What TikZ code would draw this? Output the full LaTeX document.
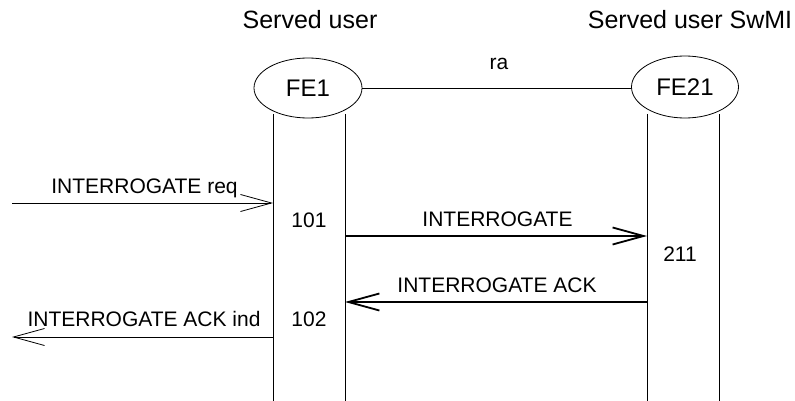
\documentclass[tikz,border=0pt]{standalone}
\usepackage{fontspec}
\setmainfont{Liberation Sans}
\usetikzlibrary{shapes.geometric,arrows.meta}
\tikzset{
  fe/.style={draw, ellipse, line width=0.8pt, inner sep=0pt,
             font=\fontsize{24}{28}\selectfont},
  life/.style={line width=0.8pt},
  lbl/.style={inner sep=0pt, anchor=base, font=\fontsize{21}{25}\selectfont},
  head/.style={inner sep=0pt, anchor=base, font=\fontsize{25}{30}\selectfont},
  thinmsg/.style={line width=0.8pt, -{Straight Barb[length=31pt,width=17pt]}},
  thickmsg/.style={line width=1.8pt, -{Straight Barb[length=31pt,width=17pt]}},
}
\begin{document}
\begin{tikzpicture}[x=1pt,y=-1pt]
  \useasboundingbox (0,0) rectangle (795,401);

  % column headings
  \node[head] (h1) at (310,29) {Served user};
  \node[head] (h2) at (690,29) {Served user SwMI};

  % functional entities and their relation
  \node[fe, minimum width=108pt, minimum height=60pt] (fe1) at (308,88) {FE1};
  \node[fe, minimum width=107pt, minimum height=62pt] (fe21) at (685,87) {FE21};
  \draw[life] (fe1.east) -- (fe21.west |- fe1.east);
  \node[lbl] (ra) at (499,70) {ra};

  % lifelines
  \coordinate (a1) at (273,114); \coordinate (a2) at (273,401);
  \coordinate (b1) at (345,114); \coordinate (b2) at (345,401);
  \coordinate (c1) at (647,114); \coordinate (c2) at (647,401);
  \coordinate (d1) at (719,114); \coordinate (d2) at (719,401);
  \draw[life] (a1) -- (a2);
  \draw[life] (b1) -- (b2);
  \draw[life] (c1) -- (c2);
  \draw[life] (d1) -- (d2);

  % message end points
  \coordinate (reqs) at (12,203);  \coordinate (reqe) at (273,203);
  \coordinate (ints) at (345,236); \coordinate (inte) at (647,236);
  \coordinate (acks) at (647,302); \coordinate (acke) at (345,302);
  \coordinate (inds) at (273,337); \coordinate (inde) at (12,337);

  % messages
  \draw[thinmsg]  (reqs) -- (reqe);
  \draw[thickmsg] (ints) -- (inte);
  \draw[thickmsg] (acks) -- (acke);
  \draw[thinmsg]  (inds) -- (inde);

  % message labels
  \node[lbl] (t1) at (144.5,193) {INTERROGATE req};
  \node[lbl] (t2) at (497.5,226) {INTERROGATE};
  \node[lbl] (t3) at (497,292) {INTERROGATE ACK};
  \node[lbl] (t4) at (144,326) {INTERROGATE ACK ind};

  % step numbers
  \node[lbl] (n101) at (309,227) {101};
  \node[lbl] (n211) at (680,261) {211};
  \node[lbl] (n102) at (309,326) {102};
\end{tikzpicture}
\end{document}
